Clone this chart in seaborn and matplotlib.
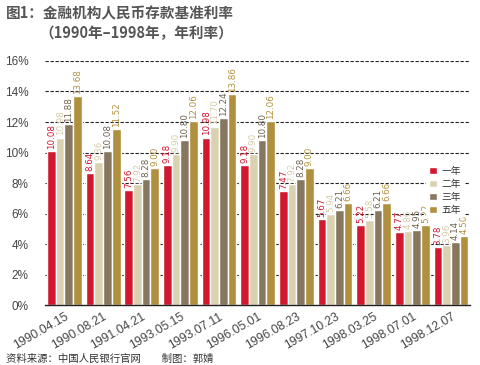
import matplotlib
matplotlib.use("Agg")
import matplotlib.pyplot as plt
import seaborn as sns
import pandas as pd

dates = ["1990.04.15", "1990.08.21", "1991.04.21", "1993.05.15", "1993.07.11",
         "1996.05.01", "1996.08.23", "1997.10.23", "1998.03.25", "1998.07.01", "1998.12.07"]
terms = ["一年", "二年", "三年", "五年"]
one_year = [10.08, 8.64, 7.56, 9.18, 10.98, 9.18, 7.47, 5.67, 5.22, 4.77, 3.78]
two_year = [10.98, 9.36, 7.92, 9.90, 11.70, 9.90, 7.92, 5.94, 5.58, 4.86, 3.96]
three_year = [11.88, 10.08, 8.28, 10.80, 12.24, 10.80, 8.28, 6.21, 6.21, 4.95, 4.14]
five_year = [13.68, 11.52, 9.00, 12.06, 13.86, 12.06, 9.00, 6.66, 6.66, 5.22, 4.50]
yticks = [0, 2, 4, 6, 8, 10, 12, 14, 16]

colors = ["#D2182F", "#DAD1B0", "#87775F", "#B0903E"]
label_colors = ["#D2182F", "#D5CCA8", "#6E6250", "#B0903E"]

sns.set_theme(style="white")
plt.rcParams['font.family'] = ['Noto Sans CJK SC', 'DejaVu Sans']

rows = []
for vals, t in zip([one_year, two_year, three_year, five_year], terms):
    for d, v in zip(dates, vals):
        rows.append({"date": d, "term": t, "rate": v})
df = pd.DataFrame(rows)

fig = plt.figure(figsize=(4.8, 3.65), dpi=100)
ax = fig.add_axes([0.094, 0.164, 0.886, 0.669])

for y in yticks[1:]:
    ax.axhline(y, color="#222222", lw=0.8, ls=(0, (3, 1.5)), zorder=0)

sns.barplot(data=df, x="date", y="rate", hue="term", hue_order=terms,
            palette=colors, width=0.9, ax=ax, zorder=2, saturation=1)

for cont, c in zip(ax.containers, label_colors):
    ax.bar_label(cont, fmt="%.2f", rotation=90, fontsize=6.3, color=c,
                 padding=1.5, family=['DejaVu Sans'])

ax.set_ylim(0, 16)
ax.set_xlim(-0.5, len(dates) - 0.5)
ax.set_yticks(yticks)
ax.set_yticklabels([f"{v}%" for v in yticks], fontsize=8.5, color="#444444",
                   family=['Liberation Sans'])
ax.set_xticks(range(len(dates)))
ax.set_xticklabels(dates, rotation=30, ha="right", rotation_mode="anchor",
                   fontsize=8.8, color="#444444", family=['Liberation Sans'])
ax.tick_params(axis="x", length=0, pad=4)
ax.tick_params(axis="y", length=0, pad=12)
ax.set_xlabel("")
ax.set_ylabel("")
for s in ["top", "right", "left"]:
    ax.spines[s].set_visible(False)
ax.spines["bottom"].set_color("#222222")
ax.spines["bottom"].set_linewidth(1.0)

leg = ax.legend(loc="upper left", bbox_to_anchor=(0.885, 0.60), frameon=True,
                fontsize=7, handlelength=0.8, handleheight=0.8,
                labelspacing=0.3, borderpad=0.25, handletextpad=0.5)
leg.get_frame().set_edgecolor("white")
leg.get_frame().set_facecolor("white")
leg.get_frame().set_alpha(1)
for t in leg.get_texts():
    t.set_color("#333333")

fig.text(0.012, 0.963, "图1：金融机构人民币存款基准利率", fontsize=10.5,
         fontweight="bold", color="#555555", va="center")
fig.text(0.082, 0.91, "（1990年–1998年，年利率）", fontsize=10.5,
         fontweight="bold", color="#555555", va="center")
fig.text(0.012, 0.002, "资料来源：中国人民银行官网　　制图：郭婧", fontsize=7.5,
         color="#333333", va="bottom")

fig.savefig("out.png", dpi=100)
